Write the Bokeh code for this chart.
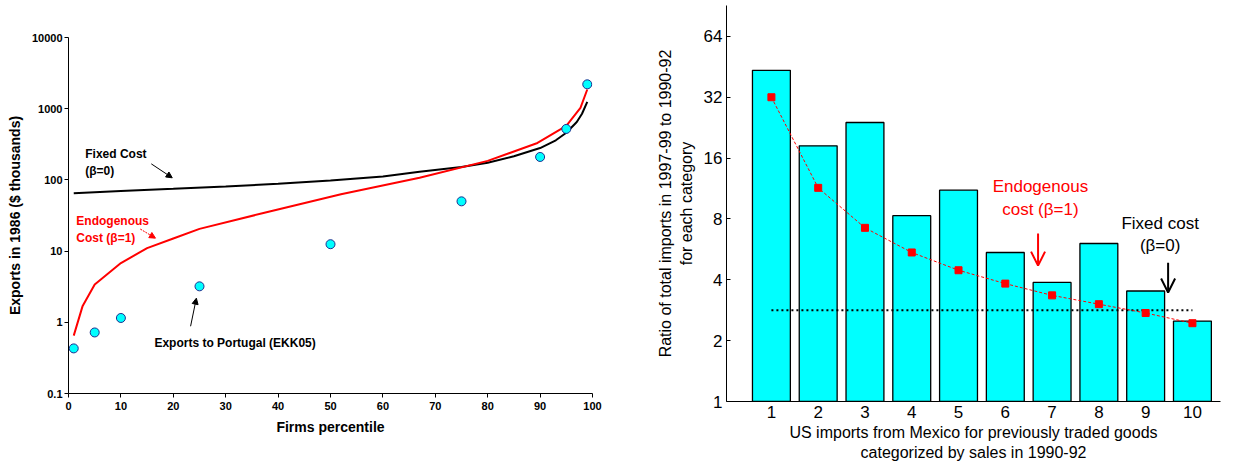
from bokeh.plotting import figure
from bokeh.layouts import row
from bokeh.models import (Range1d, FixedTicker, NumeralTickFormatter, Arrow,
                          NormalHead, OpenHead, Label, ColumnDataSource)
from bokeh.embed import file_html
from bokeh.resources import INLINE

FONT = "Liberation Sans"

# ---------------- Left chart data ----------------
pct_points = [1, 5, 10, 25, 50, 75, 90, 95, 99]
exports_portugal = [0.43, 0.72, 1.15, 3.2, 12.5, 50, 210, 520, 2200]

fixed_pct = [1, 10, 20, 30, 40, 50, 60, 67, 75, 80, 85, 90, 93, 95, 97, 98, 99]
fixed_cost = [65, 70, 75, 81, 88, 98, 112, 130, 152, 174, 215, 280, 360, 460, 650, 850, 1250]

endog_pct = [1, 2.7, 5, 10, 15, 20, 25, 37, 52, 67, 80, 89.5, 95, 97.7, 99]
endog_cost = [0.65, 1.7, 3.4, 6.8, 11, 15, 20.5, 34, 63, 107, 185, 330, 575, 1030, 1860]

left_xticks = [0, 10, 20, 30, 40, 50, 60, 70, 80, 90, 100]
left_yticks = [0.1, 1, 10, 100, 1000, 10000]

# ---------------- Right chart data ----------------
categories = [1, 2, 3, 4, 5, 6, 7, 8, 9, 10]
import_ratio = [43.5, 18.4, 24, 8.3, 11.1, 5.46, 3.88, 6.05, 3.52, 2.5]
endog_ratio = [32, 11.4, 7.23, 5.46, 4.46, 3.83, 3.35, 3.03, 2.74, 2.44]
fixed_ratio = [2.83, 2.83]
fixed_span = [1, 10]
right_yticks = [1, 2, 4, 8, 16, 32, 64]

# ================= Left figure =================
p1 = figure(width=640, height=466, y_axis_type="log",
            x_range=Range1d(0, 100), y_range=Range1d(0.1, 10000),
            output_backend="svg", toolbar_location=None,
            min_border_left=68, min_border_right=48,
            min_border_top=37, min_border_bottom=73)
p1.frame_align = False
p1.outline_line_color = None
p1.grid.grid_line_color = None

p1.line(fixed_pct, fixed_cost, line_color="black", line_width=2)
p1.line(endog_pct, endog_cost, line_color="#FF0000", line_width=2)
p1.scatter(pct_points, exports_portugal, size=9, fill_color="#00FFFF",
           line_color="#1F2E8F", line_width=1)

p1.xaxis.ticker = FixedTicker(ticks=left_xticks)
p1.yaxis.ticker = FixedTicker(ticks=left_yticks)
p1.yaxis.formatter = NumeralTickFormatter(format="0.[0]")
for ax in (p1.xaxis[0], p1.yaxis[0]):
    ax.major_label_text_font = FONT
    ax.major_label_text_font_style = "bold"
    ax.major_label_text_font_size = "11px"
    ax.major_label_text_color = "black"
    ax.axis_label_text_font = FONT
    ax.axis_label_text_font_style = "bold"
    ax.axis_label_text_font_size = "14px"
    ax.axis_label_text_color = "black"
    ax.major_tick_in = 0
    ax.major_tick_out = 4
    ax.minor_tick_in = 0
    ax.minor_tick_out = 0
    ax.axis_line_color = "black"
    ax.major_tick_line_color = "black"
p1.yaxis.major_label_standoff = 2
p1.yaxis.axis_label_standoff = 6
p1.xaxis.major_label_standoff = 4
p1.xaxis.axis_label_standoff = 6
p1.yaxis.axis_label = "Exports in 1986 ($ thousands)"
p1.xaxis.axis_label = "Firms percentile"

p1.add_layout(Label(x=3.2, y=292, text="Fixed Cost\n(β=0)", text_font=FONT,
                    text_font_style="bold", text_font_size="12px",
                    text_color="black", text_align="left", text_baseline="top"))
p1.add_layout(Label(x=1.5, y=33, text="Endogenous\nCost (β=1)", text_font=FONT,
                    text_font_style="bold", text_font_size="12px",
                    text_color="#FF0000", text_align="left", text_baseline="top"))
p1.add_layout(Label(x=16.4, y=0.52, text="Exports to Portugal (EKK05)", text_font=FONT,
                    text_font_style="bold", text_font_size="12px",
                    text_color="black", text_align="left", text_baseline="middle"))

p1.add_layout(Arrow(x_start=15.8, y_start=168, x_end=19.8, y_end=107,
                    line_color="black", line_width=1,
                    end=NormalHead(size=6, fill_color="black", line_color="black")))
p1.add_layout(Arrow(x_start=13.7, y_start=20.4, x_end=16.6, y_end=15.2,
                    line_color="#FF0000", line_width=1, line_dash="2 1",
                    end=NormalHead(size=6, fill_color="#FF0000", line_color="#FF0000")))
p1.add_layout(Arrow(x_start=23.3, y_start=0.88, x_end=24.4, y_end=2.18,
                    line_color="black", line_width=1,
                    end=NormalHead(size=6, fill_color="black", line_color="black")))

# ================= Right figure =================
p2 = figure(width=596, height=466, y_axis_type="log",
            x_range=Range1d(0.04, 10.6), y_range=Range1d(1, 91),
            output_backend="svg", toolbar_location=None,
            min_border_left=86, min_border_right=16,
            min_border_top=5, min_border_bottom=65)
p2.frame_align = False
p2.outline_line_color = None
p2.grid.grid_line_color = None

src = ColumnDataSource(dict(x=categories, top=import_ratio))
p2.vbar(x="x", top="top", bottom=1, width=0.81, source=src,
        fill_color="#00FFFF", line_color="black", line_width=1.3)
p2.line(fixed_span, fixed_ratio, line_color="black", line_width=2, line_dash="2 3")
p2.line(categories, endog_ratio, line_color="#FF0000", line_width=1, line_dash="3 2")
p2.scatter(categories, endog_ratio, marker="square", size=7,
           fill_color="#FF0000", line_color="#FF0000")

p2.xaxis.ticker = FixedTicker(ticks=categories)
p2.yaxis.ticker = FixedTicker(ticks=right_yticks)
p2.yaxis.formatter = NumeralTickFormatter(format="0")
for ax in (p2.xaxis[0], p2.yaxis[0]):
    ax.major_label_text_font = FONT
    ax.major_label_text_font_style = "normal"
    ax.major_label_text_font_size = "17px"
    ax.major_label_text_color = "black"
    ax.axis_label_text_font = FONT
    ax.axis_label_text_font_style = "normal"
    ax.axis_label_text_font_size = "16px"
    ax.axis_label_text_color = "black"
    ax.minor_tick_in = 0
    ax.minor_tick_out = 0
    ax.axis_line_color = "black"
    ax.major_tick_line_color = "black"
p2.yaxis.major_tick_in = 4
p2.yaxis.major_tick_out = 0
p2.yaxis.major_label_standoff = 4
p2.yaxis.axis_label_standoff = 6
p2.xaxis.major_tick_in = 0
p2.xaxis.major_tick_out = 0
p2.xaxis.major_label_standoff = 4
p2.xaxis.axis_label_standoff = 3
p2.yaxis.axis_label = "Ratio of total imports in 1997-99 to 1990-92\nfor each category"
p2.xaxis.axis_label = "US imports from Mexico for previously traded goods\ncategorized by sales in 1990-92"

p2.add_layout(Label(x=6.75, y=12.9, text="Endogenous\ncost (β=1)", text_font=FONT,
                    text_font_size="17px", text_color="#FF0000",
                    text_align="center", text_baseline="top"))
p2.add_layout(Label(x=9.31, y=8.5, text="Fixed cost\n(β=0)", text_font=FONT,
                    text_font_size="17px", text_color="black",
                    text_align="center", text_baseline="top"))
p2.add_layout(Arrow(x_start=6.7, y_start=6.77, x_end=6.7, y_end=4.7,
                    line_color="#FF0000", line_width=2,
                    end=OpenHead(size=14, line_color="#FF0000", line_width=2)))
p2.add_layout(Arrow(x_start=9.48, y_start=4.86, x_end=9.48, y_end=3.46,
                    line_color="black", line_width=2,
                    end=OpenHead(size=14, line_color="black", line_width=2)))

layout = row(p1, p2)
open("out.html", "w").write(file_html(layout, INLINE))
